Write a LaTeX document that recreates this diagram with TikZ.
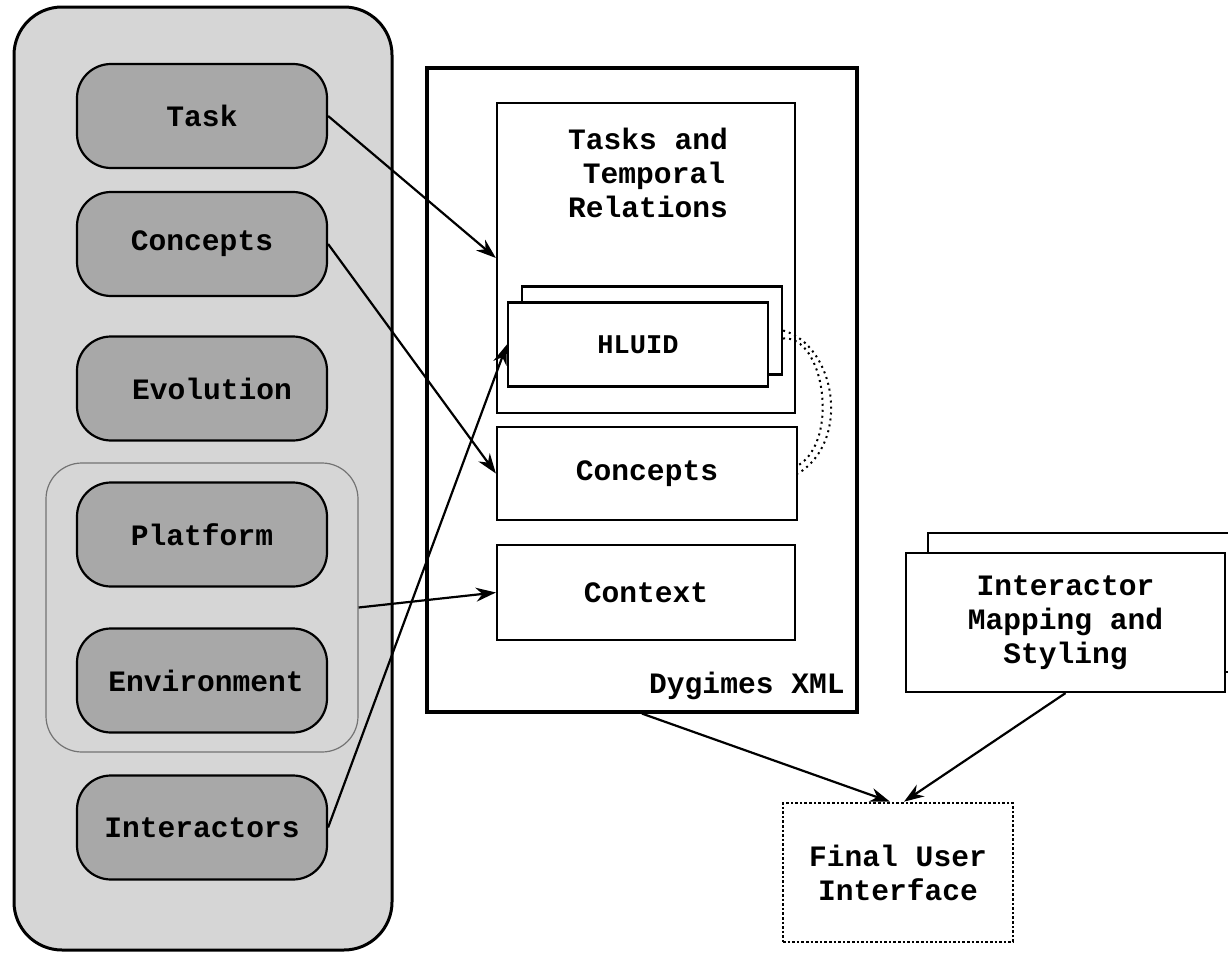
\documentclass[tikz,border=0pt]{standalone}
\usepackage{fontspec}
\setmainfont{Liberation Mono}
\usetikzlibrary{arrows.meta}
\definecolor{outerg}{gray}{0.84}
\definecolor{innerg}{gray}{0.66}
\definecolor{groupline}{gray}{0.45}
\begin{document}
\begin{tikzpicture}[x=0.5pt,y=-0.5pt,
  every node/.style={font=\fontsize{14.8}{17}\selectfont\bfseries, align=center, inner sep=0pt},
  leftbox/.style={draw, line width=1.1pt, fill=innerg, rounded corners=17pt, minimum width=125pt, minimum height=52pt},
  wbox/.style={draw, line width=1.1pt, fill=white},
  conn/.style={line width=1.1pt, -{Stealth[length=10pt,width=7pt]}},
  dotline/.style={line width=1pt, dotted}]
\useasboundingbox (0,0) rectangle (1228,953);
% left panel
\node[draw, line width=1.5pt, fill=outerg, rounded corners=24pt, minimum width=189pt, minimum height=471.5pt] (outer) at (203,478.5) {};
\node[draw=groupline, line width=0.6pt, fill=outerg, rounded corners=18pt, minimum width=156pt, minimum height=144.5pt] (group) at (202,607.5) {};
\node[leftbox] (task) at (202,116) {Task};
\node[leftbox] (conceptsL) at (202,244) {Concepts};
\node[leftbox] (evolution) at (202,388.5) {\hspace*{10pt}Evolution};
\node[leftbox] (platform) at (202,534.5) {Platform};
\node[leftbox] (environment) at (202,680.5) {\hspace*{4pt}Environment};
\node[leftbox] (interactors) at (202,827.5) {Interactors};
% Dygimes XML
\node[wbox, line width=1.6pt, minimum width=215pt, minimum height=322pt] (dyg) at (642,390) {};
\node[anchor=south east] (dyglabel) at (845,700) {Dygimes XML};
\node[wbox, minimum width=149pt, minimum height=155pt] (tasks) at (646,258) {};
\node[anchor=north] (taskstext) at (648,128) {Tasks and\\\hspace*{6pt}Temporal\\Relations};
\node[wbox, minimum width=130pt, minimum height=44pt] (hluidback) at (652,330.5) {};
\node[wbox, minimum width=130pt, minimum height=42pt] (hluid) at (638,344.5) {\fontsize{13.5}{16}\selectfont\bfseries HLUID};
\node[wbox, minimum width=150pt, minimum height=46.5pt] (conceptsR) at (647,473.5) {Concepts};
\node[wbox, minimum width=149pt, minimum height=47.5pt] (context) at (646,592.5) {Context};
% Interactor mapping
\node[wbox, minimum width=159.5pt, minimum height=69.5pt] (imback) at (1087.5,602.5) {};
\node[wbox, minimum width=159.5pt, minimum height=69.5pt] (im) at (1065.5,622.5) {Interactor\\Mapping and\\Styling};
% Final UI
\node[draw, line width=1.3pt, densely dotted, fill=white, minimum width=115pt, minimum height=69.5pt] (fui) at (898,872.5) {Final User\\Interface};
% connectors
\draw[conn] (task.east) -- (tasks.west);
\draw[conn] (conceptsL.east) -- (conceptsR.west);
\draw[conn] (group.east) -- (context.west);
\draw[conn] (interactors.east) -- (hluid.west);
\draw[conn] (dyg.south) -- ([xshift=-4pt]fui.north);
\draw[conn] (im.south) -- ([xshift=3pt]fui.north);
\draw[dotline] (hluidback.east) .. controls (835,345) and (852,440) .. (conceptsR.east);
\draw[dotline] ([yshift=-4pt]hluidback.east) .. controls (824,335) and (840,440) .. ([yshift=4pt]conceptsR.east);
\end{tikzpicture}
\end{document}
